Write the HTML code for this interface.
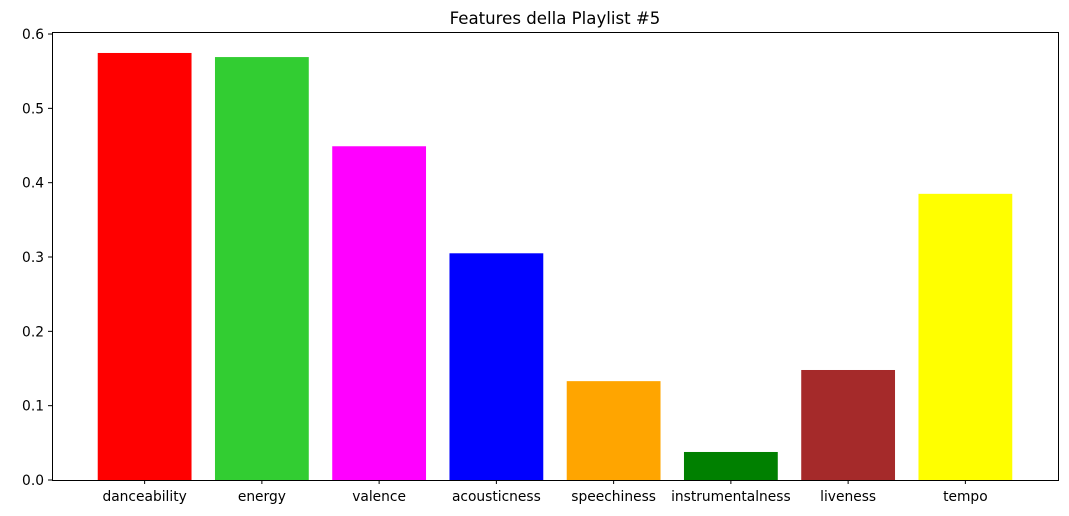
<!DOCTYPE html>
<html><head><meta charset="utf-8"><style>
body{margin:0;background:#fff;}
svg text{font-family:"DejaVu Sans","Liberation Sans",sans-serif;}
</style></head><body>
<svg id="chart" width="1069" height="511" xmlns="http://www.w3.org/2000/svg">
<rect width="1069" height="511" fill="#fff"/>
<text x="555" y="24" font-size="16.6" text-anchor="middle">Features della Playlist #5</text>
<g id="plot"></g>
</svg>
<script>
const categories = ["danceability","energy","valence","acousticness","speechiness","instrumentalness","liveness","tempo"];
const values = [0.5745, 0.569, 0.449, 0.305, 0.133, 0.0377, 0.148, 0.385];
const colors = ["#ff0000","#32cd32","#ff00ff","#0000ff","#ffa500","#008000","#a52a2a","#ffff00"];
const yTicks = [0, 0.1, 0.2, 0.3, 0.4, 0.5, 0.6];
const yTickLabels = ["0.0","0.1","0.2","0.3","0.4","0.5","0.6"];

const L=52, R=1058, T=32, B=480;
const yMax = (B-T)/743.3;
const xMin=-0.79, xMax=categories.length-1+0.79;
const xs = i => L + (i - xMin)/(xMax-xMin)*(R-L);
const ys = v => B - v/yMax*(B-T);
const bw = 0.8*(R-L)/(xMax-xMin);
const NS="http://www.w3.org/2000/svg";
const g=document.getElementById('plot');
function mk(t,a){const e=document.createElementNS(NS,t);for(const k in a)e.setAttribute(k,a[k]);g.appendChild(e);return e;}

values.forEach((v,i)=>{
  const r=mk('rect',{x:xs(i)-bw/2,y:ys(v),width:bw,height:B-ys(v),fill:colors[i]});
  
  
  const tk=mk('line',{x1:xs(i),x2:xs(i),y1:B,y2:B+4,stroke:'#000','stroke-width':1});
  
  
  const t=mk('text',{x:xs(i),y:B+21,'font-size':13.8,'text-anchor':'middle'});
  t.textContent=categories[i];
  
  
});
yTicks.forEach((v,i)=>{
  const tk=mk('line',{x1:L-4,x2:L,y1:ys(v),y2:ys(v),stroke:'#000','stroke-width':1});
  
  
  const t=mk('text',{x:L-8,y:ys(v)+5,'font-size':13.8,'text-anchor':'end'});
  t.textContent=yTickLabels[i];
  
  
});
const fr=mk('rect',{x:L+0.5,y:T+0.5,width:R-L,height:B-T,fill:'none',stroke:'#000','stroke-width':1});


</script>
</body></html>
